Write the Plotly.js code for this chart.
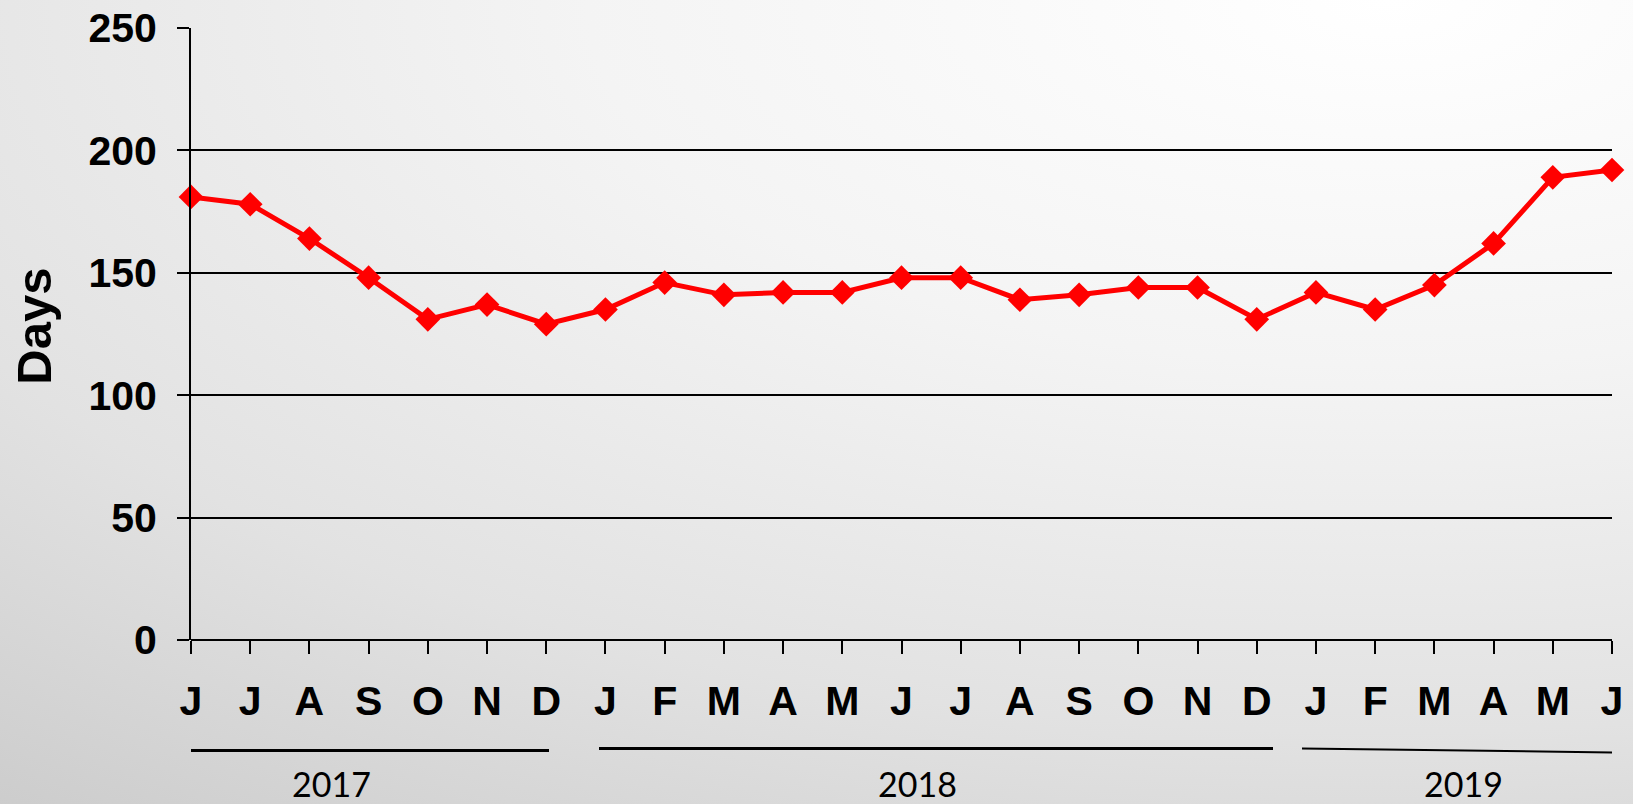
<!DOCTYPE html>
<html>
<head>
<meta charset="utf-8">
<script src="https://cdn.plot.ly/plotly-3.0.1.min.js"></script>
<style>
html,body{margin:0;padding:0;width:1633px;height:804px;overflow:hidden;}
body{background: radial-gradient(ellipse 140% 130% at 85% 0%, #ffffff 0%, #f4f4f4 35%, #e2e2e2 70%, #cbcbcb 100%);}
#chart{width:1633px;height:804px;}
</style>
</head>
<body>
<div id="chart"></div>
<script>
const monthLabels = ["J","J","A","S","O","N","D","J","F","M","A","M","J","J","A","S","O","N","D","J","F","M","A","M","J"];
const days = [181,178,164,148,131,137,129,135,146,141,142,142,148,148,139,141,144,144,131,142,135,145,162,189,192];
const years = ["2017","2018","2019"];

const xIdx = monthLabels.map((_, i) => i);

const W = 1633, H = 804;
const mL = 191, mR = 21, mT = 28, mB = 163.5;
const plotH = H - mT - mB;
const plotW = W - mL - mR;
const step = plotW / 24;
const pxToPaperY = py => (H - mB - py) / plotH;
const pxToX = px => (px - mL) / step;

const lineSpec = [
  {x0: pxToX(182), x1: pxToX(549), y0: 751, y1: 751, w: 3},
  {x0: pxToX(599), x1: pxToX(1273), y0: 749, y1: 749, w: 3},
  {x0: pxToX(1302), x1: pxToX(1612), y0: 749, y1: 753, w: 2}
];
const yearTextPx = [331, 917, 1463];

const shapes = lineSpec.map(s => ({
  type: 'line', xref: 'x', yref: 'paper',
  x0: s.x0, x1: s.x1, y0: pxToPaperY(s.y0), y1: pxToPaperY(s.y1),
  line: {color: '#000', width: s.w}
}));

const annotations = years.map((y, i) => ({
  text: y, xref: 'x', yref: 'paper', x: pxToX(yearTextPx[i]), y: pxToPaperY(784),
  showarrow: false, xanchor: 'center', yanchor: 'middle',
  font: {family: 'Lato, "Open Sans", sans-serif', size: 34, color: '#000'}
}));
annotations.push({
  text: '<b>Days</b>', xref: 'paper', yref: 'paper',
  x: (34 - mL) / plotW, y: pxToPaperY(327), textangle: -90, showarrow: false,
  xanchor: 'center', yanchor: 'middle',
  font: {family: '"Liberation Sans", Arial, sans-serif', size: 49, color: '#000'}
});

const trace = {
  x: xIdx, y: days, type: 'scatter', mode: 'lines+markers',
  line: {color: '#ff0000', width: 5},
  marker: {symbol: 'diamond', size: 19, color: '#ff0000'},
  cliponaxis: false, hoverinfo: 'skip'
};

const tf = {family: '"Liberation Sans", Arial, sans-serif', size: 41, color: '#000', weight: 'bold'};

const layout = {
  width: W, height: H,
  margin: {l: mL, r: mR, t: mT, b: mB, pad: 0},
  paper_bgcolor: 'rgba(0,0,0,0)', plot_bgcolor: 'rgba(0,0,0,0)',
  showlegend: false,
  xaxis: {
    range: [0, 24], tickmode: 'array', tickvals: xIdx, ticktext: monthLabels,
    showgrid: false, zeroline: false, showline: false,
    ticks: 'outside', ticklen: 13, tickwidth: 2, tickcolor: '#000',
    ticklabelstandoff: 12,
    tickfont: tf
  },
  yaxis: {
    range: [0, 250], tickvals: [0,50,100,150,200,250],
    showgrid: true, gridcolor: '#000', gridwidth: 2,
    zeroline: true, zerolinecolor: '#000', zerolinewidth: 2,
    showline: true, linecolor: '#000', linewidth: 2,
    ticks: 'outside', ticklen: 12, tickwidth: 2, tickcolor: '#000',
    ticklabelstandoff: 12,
    tickfont: tf
  },
  shapes: shapes,
  annotations: annotations
};

Plotly.newPlot('chart', [trace], layout, {displayModeBar: false, staticPlot: true});
</script>
</body>
</html>
